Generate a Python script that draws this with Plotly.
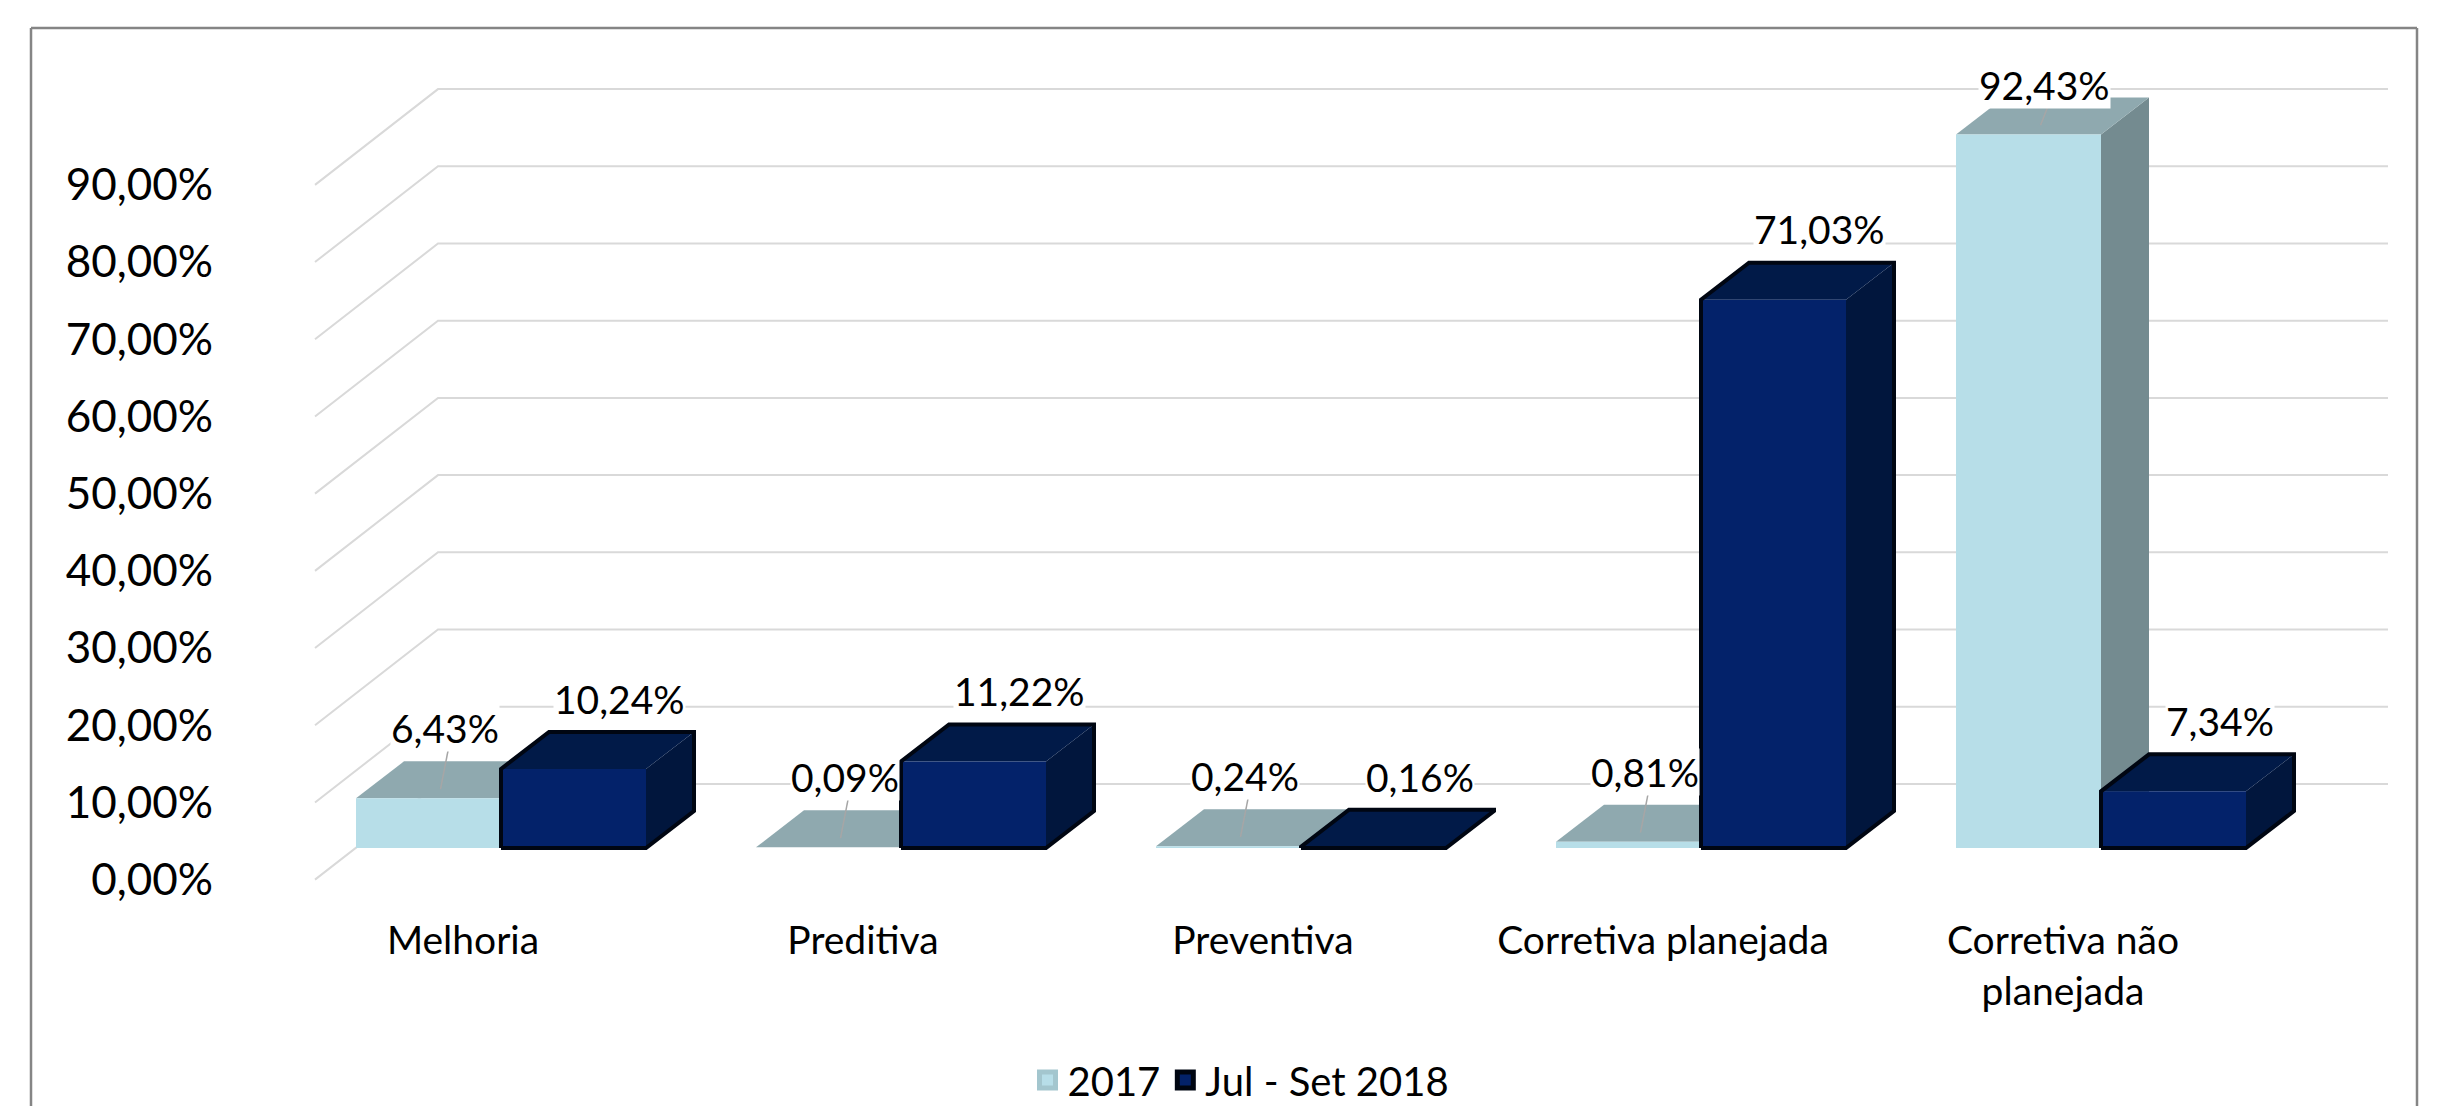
import plotly.graph_objects as go

# ---------------- data ----------------
categories = ["Melhoria", "Preditiva", "Preventiva", "Corretiva planejada", "Corretiva não<br>planejada"]
series_names = ["2017", "Jul - Set 2018"]
values_2017 = [6.43, 0.09, 0.24, 0.81, 92.43]
values_2018 = [10.24, 11.22, 0.16, 71.03, 7.34]
y_ticks = [0, 10, 20, 30, 40, 50, 60, 70, 80, 90]
y_tick_labels = ["0,00%", "10,00%", "20,00%", "30,00%", "40,00%", "50,00%",
                 "60,00%", "70,00%", "80,00%", "90,00%"]

# ---------------- layout constants (pixels) ----------------
FIG_W, FIG_H = 2438, 1106
M_L, M_R, M_T, M_B = 230, 20, 30, 206
PX_X = 400.0      # pixels per category unit
PX_Y = 7.72       # pixels per percentage point
X0_PX = 501.0     # pixel position of category 0 (front face centre of the group)
Y0_PX = 848.0     # pixel position of bar base

plot_w = FIG_W - M_L - M_R
plot_h = FIG_H - M_T - M_B
x_range = [(M_L - X0_PX) / PX_X, (FIG_W - M_R - X0_PX) / PX_X]
y_range = [-(FIG_H - M_B - Y0_PX) / PX_Y, (Y0_PX - M_T) / PX_Y]

# 3D projection offsets in data units
BAR_W = 0.3625                 # width of one bar front face
DX, DY = 48 / PX_X, 37 / PX_Y  # bar depth
FRONT_DX, FRONT_DY = -41 / PX_X, -4.1    # front wall relative to bar plane
BACK_DX, BACK_DY = 82 / PX_X, 8.3        # back wall relative to bar plane
WALL_RIGHT = (2388 - X0_PX) / PX_X
GROUP_LEFT = -0.3625

FONT = "Lato, 'Open Sans', sans-serif"

styles = [
    dict(front="#B7DEE8", top="#8FA9AF", side="#748B90", outline=None, legend_line="#A3C6CE", label_dx=-0.02),
    dict(front="#03226A", top="#011A48", side="#01163D", outline="#000612", legend_line="#000612", label_dx=0.055),
]

def fmt(v):
    return f"{v:.2f}".replace(".", ",") + "%"

fig = go.Figure()

# ---------------- gridlines (left wall diagonals + back wall) ----------------
gx, gy = [], []
x_front = GROUP_LEFT + FRONT_DX
x_back = GROUP_LEFT + BACK_DX
for t in y_ticks:
    gx += [x_front, x_back, WALL_RIGHT, None]
    gy += [t + FRONT_DY, t + BACK_DY, t + BACK_DY, None]
fig.add_trace(go.Scatter(x=gx, y=gy, mode="lines", line=dict(color="#D9D9D9", width=2),
                         hoverinfo="skip", showlegend=False))

# ---------------- 3D bars ----------------
annotations = []
leader_x, leader_y = [], []
for i in range(len(categories)):
    for s, vals in enumerate([values_2017, values_2018]):
        v = vals[i]
        st = styles[s]
        xl = i + GROUP_LEFT + s * BAR_W
        xr = xl + BAR_W
        # side face
        fig.add_trace(go.Scatter(
            x=[xr, xr, xr + DX, xr + DX, xr], y=[0, v, v + DY, DY, 0],
            mode="lines", fill="toself", fillcolor=st["side"], line=dict(width=0, color=st["side"]),
            hoverinfo="skip", showlegend=False))
        # top face
        fig.add_trace(go.Scatter(
            x=[xl, xr, xr + DX, xl + DX, xl], y=[v, v, v + DY, v + DY, v],
            mode="lines", fill="toself", fillcolor=st["top"], line=dict(width=0, color=st["top"]),
            hoverinfo="skip", showlegend=False))
        # front face
        fig.add_trace(go.Scatter(
            x=[xl, xr, xr, xl, xl], y=[0, 0, v, v, 0],
            mode="lines", fill="toself", fillcolor=st["front"], line=dict(width=0, color=st["front"]),
            name=series_names[s], hovertemplate=f"{categories[i]}<br>{series_names[s]}: {fmt(v)}<extra></extra>",
            showlegend=False))
        if st["outline"]:
            fig.add_trace(go.Scatter(
                x=[xl, xl, xl + DX, xr + DX, xr + DX, xr, xl],
                y=[0, v, v + DY, v + DY, DY, 0, 0],
                mode="lines", line=dict(width=4, color=st["outline"]),
                hoverinfo="skip", showlegend=False))
        # data label
        lx = (xl + xr) / 2 + DX / 2 + st["label_dx"]
        ly = min(v + DY + 4.3, (Y0_PX - 85) / PX_Y)
        annotations.append(dict(x=lx, y=ly, xref="x", yref="y", text=fmt(v), showarrow=False,
                                font=dict(family=FONT, size=39, color="#000000"),
                                bgcolor="white", borderpad=0, xanchor="center", yanchor="middle"))
        if s == 0:
            tx = (xl + xr) / 2 + DX / 2
            leader_x += [lx + 0.01, tx - 0.03, None]
            leader_y += [ly - 2.6, v + DY * 0.25, None]

fig.add_trace(go.Scatter(x=leader_x, y=leader_y, mode="lines",
                         line=dict(color="#A6A6A6", width=1.5), hoverinfo="skip", showlegend=False))

# ---------------- legend entries ----------------
for s in range(2):
    st = styles[s]
    fig.add_trace(go.Scatter(
        x=[None], y=[None], mode="markers", name=series_names[s],
        marker=dict(symbol="square", size=16, color=st["front"],
                    line=dict(width=5, color=st["legend_line"]))))

# ---------------- frame (left, top, right edges; bottom is outside the picture) ----------------
def px_to_paper_x(px):
    return (px - M_L) / plot_w

def px_to_paper_y(py):
    return (FIG_H - M_B - py) / plot_h

fx0, fx1 = px_to_paper_x(31), px_to_paper_x(2417)
fy0, fy1 = px_to_paper_y(1110), px_to_paper_y(28)
frame_line = dict(color="#858585", width=2.5)
shapes = [
    dict(type="line", xref="paper", yref="paper", x0=fx0, x1=fx0, y0=fy0, y1=fy1, line=frame_line),
    dict(type="line", xref="paper", yref="paper", x0=fx0, x1=fx1, y0=fy1, y1=fy1, line=frame_line),
    dict(type="line", xref="paper", yref="paper", x0=fx1, x1=fx1, y0=fy0, y1=fy1, line=frame_line),
]

fig.update_layout(
    width=FIG_W, height=FIG_H,
    margin=dict(l=M_L, r=M_R, t=M_T, b=M_B, autoexpand=False),
    paper_bgcolor="white", plot_bgcolor="white",
    font=dict(family=FONT, color="#000000"),
    showlegend=True,
    legend=dict(orientation="h", x=px_to_paper_x(1241), xanchor="center",
                y=px_to_paper_y(1080), yanchor="middle",
                font=dict(family=FONT, size=40, color="#000000"),
                itemsizing="trace", bgcolor="rgba(0,0,0,0)"),
    xaxis=dict(range=x_range, showgrid=False, zeroline=False, showline=False,
               tickmode="array", tickvals=[i - 0.095 for i in range(len(categories))],
               ticktext=categories, ticks="", tickfont=dict(family=FONT, size=39),
               ticklabelstandoff=14, fixedrange=True, automargin=False),
    yaxis=dict(range=y_range, showgrid=False, zeroline=False, showline=False,
               tickmode="array", tickvals=[t + FRONT_DY for t in y_ticks],
               ticktext=y_tick_labels, ticks="", tickfont=dict(family=FONT, size=44),
               ticklabelstandoff=16, fixedrange=True, automargin=False),
    annotations=annotations,
    shapes=shapes,
)

fig.write_html("out.html")
